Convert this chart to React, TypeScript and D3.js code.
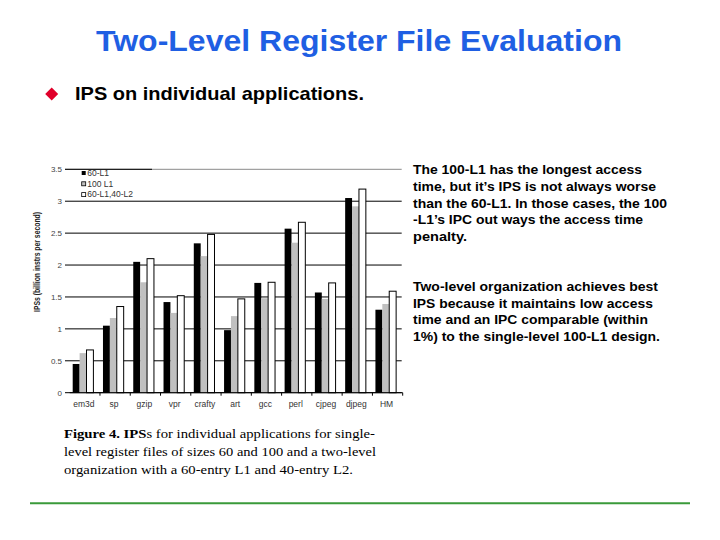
import React from 'react';
import * as d3 from 'd3';

// applications on the x axis
const apps = ['em3d', 'sp', 'gzip', 'vpr', 'crafty', 'art', 'gcc', 'perl', 'cjpeg', 'djpeg', 'HM'];
const seriesNames = ['60-L1', '100 L1', '60-L1,40-L2'];

// IPS (billion instrs per second)
const ips60 = [0.45, 1.05, 2.05, 1.42, 2.34, 0.98, 1.72, 2.57, 1.57, 3.05, 1.3];
const ips100 = [0.62, 1.17, 1.73, 1.25, 2.14, 1.2, 1.48, 2.35, 1.47, 2.92, 1.39];
const ipsTwoLevel = [0.67, 1.35, 2.1, 1.52, 2.48, 1.47, 1.73, 2.67, 1.72, 3.19, 1.59];

const yTicks = [0, 0.5, 1, 1.5, 2, 2.5, 3, 3.5];

const noteA = [
    'The 100-L1 has the longest access',
    'time, but it\u2019s IPS is not always worse',
    'than the 60-L1. In those cases, the 100',
    '-L1\u2019s IPC out ways the access time',
    'penalty.',
];
const noteAWidths = [229, 243, 254, 230, 54];
const noteB = [
    'Two-level organization achieves best',
    'IPS because it maintains low access',
    'time and an IPC comparable (within',
    '1%) to the single-level 100-L1 design.',
];
const noteBWidths = [245, 240, 235, 247];
const caption = [
    'level register files of sizes 60 and 100 and a two-level',
    'organization with a 60-entry L1 and 40-entry L2.',
];
const captionWidths = [312, 289];

const series = [ips60, ips100, ipsTwoLevel];
const fills = ['#000000', '#c0c0c0', '#ffffff'];

export default function App() {
    const W = 720, H = 540;

    // plot area
    const left = 69.7, right = 402.7, top = 169.3, bottom = 392.7;

    const x = d3.scaleBand<string>().domain(apps).range([left, right]).padding(0);
    const inner = d3.scaleBand<number>().domain([0, 1, 2]).range([3, 23.7]).padding(0);
    const y = d3.scaleLinear().domain([0, 3.5]).range([bottom, top]);

    const sans = 'Arial, "Liberation Sans", sans-serif';
    const serif = '"Liberation Serif", "Times New Roman", serif';

    return (
        <div style={{ width: W, height: H, position: 'absolute', left: 0, top: 0, background: '#fff' }}>
            <svg width={W} height={H} style={{ display: 'block' }}>
                <rect width={W} height={H} fill="#fff" />

                {/* title */}
                <text x={96} y={51} fontFamily={sans} fontWeight="bold" textLength={526}
                      lengthAdjust="spacingAndGlyphs"
                      fontSize={29} fill="#1f5fe3">Two-Level Register File Evaluation</text>

                {/* bullet */}
                <path d="M51.7,87.5 L58.2,94 L51.7,100.5 L45.2,94 Z" fill="#e0002a" />
                <text x={75} y={100} fontFamily={sans} fontWeight="bold" fontSize={18.5}
                      textLength={289} lengthAdjust="spacingAndGlyphs"
                      fill="#000">IPS on individual applications.</text>

                {/* gridlines */}
                {yTicks.map(t => (
                    <line key={'g' + t} x1={65} x2={right - 1} y1={y(t)} y2={y(t)}
                          stroke={t === 3.5 ? '#8a8a8a' : '#000'} strokeWidth={1} />
                ))}
                <line x1={65} x2={152} y1={y(3.5)} y2={y(3.5)} stroke="#000" strokeWidth={1} />

                {/* tick labels */}
                {yTicks.map(t => (
                    <text key={'t' + t} x={62} y={y(t) + 3} textAnchor="end" fontFamily={sans}
                          fontSize={8} fill="#444">{d3.format('~g')(t)}</text>
                ))}

                {/* bars */}
                {apps.map((a, i) => (
                    <g key={a} transform={`translate(${x(a)},0)`}>
                        {series.map((s, k) => (
                            <rect key={k} x={inner(k)} width={inner.bandwidth()}
                                  y={y(s[i])} height={bottom - y(s[i])}
                                  fill={fills[k]} stroke={k === 2 ? '#000' : 'none'} strokeWidth={1} />
                        ))}
                    </g>
                ))}

                {/* x axis */}
                <line x1={left} x2={right} y1={bottom} y2={bottom} stroke="#000" strokeWidth={1} />
                {apps.map(a => (
                    <line key={'xt' + a} x1={x(a)! + x.bandwidth()} x2={x(a)! + x.bandwidth()}
                          y1={bottom} y2={bottom + 3} stroke="#000" strokeWidth={1} />
                ))}
                {apps.map(a => (
                    <text key={'xl' + a} x={x(a)! + x.bandwidth() / 2 - 1} y={407} textAnchor="middle"
                          fontFamily={sans} fontSize={8.5} fill="#333">{a}</text>
                ))}

                {/* y label */}
                <text transform={`translate(40,262) rotate(-90)`} textAnchor="middle" fontFamily={sans}
                      fontWeight="bold" fontSize={9.5} textLength={100} lengthAdjust="spacingAndGlyphs"
                      fill="#222">IPSs (billion instrs per second)</text>

                {/* legend */}
                {seriesNames.map((n, k) => (
                    <g key={n} transform={`translate(81.7,${171 + k * 10.8})`}>
                        <rect x={0} y={0} width={4} height={4} fill={fills[k]}
                              stroke={k === 0 ? 'none' : '#000'} strokeWidth={0.8} />
                        <text x={5.5} y={4.8} fontFamily={sans} fontSize={8.5} fill="#333">{n}</text>
                    </g>
                ))}

                {/* notes */}
                {noteA.map((l, i) => (
                    <text key={'a' + i} x={413} y={174.3 + i * 16.7} fontFamily={sans} fontWeight="bold"
                          fontSize={12.8} textLength={noteAWidths[i]} lengthAdjust="spacingAndGlyphs"
                          fill="#000">{l}</text>
                ))}
                {noteB.map((l, i) => (
                    <text key={'b' + i} x={413} y={291 + i * 16.7} fontFamily={sans} fontWeight="bold"
                          fontSize={12.8} textLength={noteBWidths[i]} lengthAdjust="spacingAndGlyphs"
                          fill="#000">{l}</text>
                ))}

                {/* caption */}
                <text x={64} y={438.3} fontFamily={serif} fontSize={13.5} fill="#000"
                      textLength={311} lengthAdjust="spacingAndGlyphs">
                    <tspan fontWeight="bold">Figure 4. IPS</tspan>s for individual applications for single-
                </text>
                {caption.map((l, i) => (
                    <text key={'c' + i} x={64} y={456 + i * 17.5} fontFamily={serif} fontSize={13.5}
                          textLength={captionWidths[i]} lengthAdjust="spacingAndGlyphs" fill="#000">{l}</text>
                ))}

                {/* footer rule */}
                <line x1={30} x2={690} y1={503.3} y2={503.3} stroke="#3a9a3a" strokeWidth={2} />
            </svg>
        </div>
    );
}
